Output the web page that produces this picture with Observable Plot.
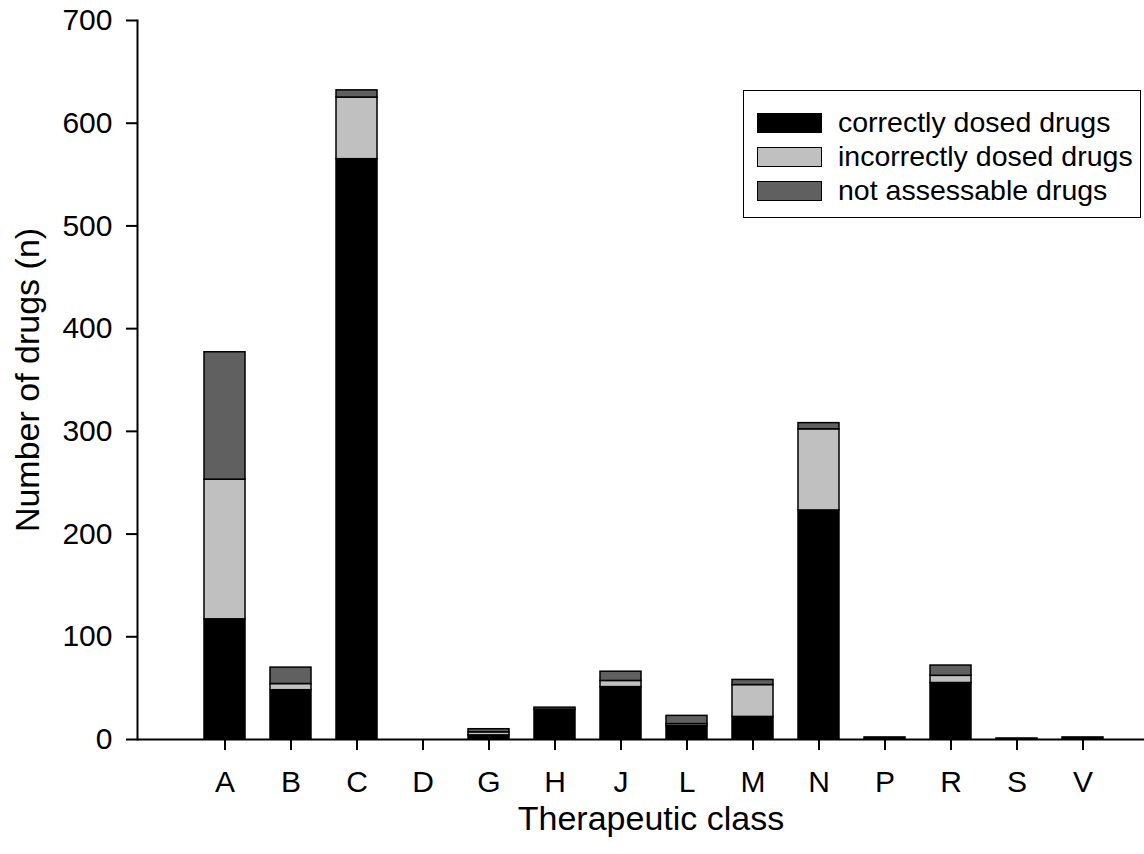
<!DOCTYPE html>
<html>
<head>
<meta charset="utf-8">
<script src="https://cdn.jsdelivr.net/npm/d3@7"></script>
<script src="https://cdn.jsdelivr.net/npm/@observablehq/plot@0.6"></script>
<style>
  html, body { margin: 0; padding: 0; background: #fff; }
  #wrap { position: relative; width: 1144px; height: 854px; font-family: "Liberation Sans", Arial, sans-serif; }
  #legend { position: absolute; left: 743px; top: 90px; width: 398px; height: 128px; border: 1.5px solid #000; box-sizing: border-box; background: #fff; }
  .item { position: absolute; left: 13px; display: flex; align-items: center; font-size: 28.5px; color: #000; white-space: nowrap; }
  .sw { width: 65px; height: 20px; border: 1.5px solid #000; box-sizing: border-box; margin-right: 16px; }
</style>
</head>
<body>
<div id="wrap"></div>
<script>
const categories = ["A","B","C","D","G","H","J","L","M","N","P","R","S","V"];
const correct = [117,48,565,0,4,29,51,13,22,223,2,55,1,2];
const incorrect = [136,6,60,0,3,0,6,2,31,79,0,7,0,0];
const notAssessable = [124,16,7,0,3,2,9,8,5,6,0,10,0,0];
const seriesNames = ["correctly dosed drugs","incorrectly dosed drugs","not assessable drugs"];
const seriesColors = ["#000000","#c0c0c0","#606060"];
const yTicks = [0,100,200,300,400,500,600,700];

const rows = [];
categories.forEach((c, i) => {
  rows.push({cls: c, series: seriesNames[0], n: correct[i]});
  rows.push({cls: c, series: seriesNames[1], n: incorrect[i]});
  rows.push({cls: c, series: seriesNames[2], n: notAssessable[i]});
});

const font = "Liberation Sans, Arial, sans-serif";
const chart = Plot.plot({
  width: 1144,
  height: 854,
  marginLeft: 137,
  marginRight: 0,
  marginTop: 20,
  marginBottom: 115,
  style: {fontFamily: font, fontSize: "30px", background: "#fff", color: "#000"},
  x: {domain: categories, range: [191, 1115], paddingInner: 0.38, paddingOuter: 0.19, label: null},
  y: {domain: [0, 700], label: null},
  color: {domain: seriesNames, range: seriesColors},
  marks: [
    Plot.barY(rows, {x: "cls", y: "n", fill: "series", stroke: "#000", strokeWidth: 1.5}),
    Plot.ruleY([0], {stroke: "#000", strokeWidth: 2}),
    Plot.axisY({ticks: yTicks, tickSize: 11, tickPadding: 14, tickFormat: d => String(d), label: null, strokeWidth: 2, fontSize: 30}),
    Plot.frame({anchor: "left", stroke: "#000", strokeWidth: 2}),
    Plot.axisX({tickSize: 11, tickPadding: 20, label: null, strokeWidth: 2, fontSize: 30}),
    Plot.text(["Number of drugs (n)"], {frameAnchor: "left", textAnchor: "middle", dx: -109, rotate: -90, fontSize: 34, fill: "#000"}),
    Plot.text(["Therapeutic class"], {frameAnchor: "bottom", textAnchor: "middle", dx: 10, dy: 90, fontSize: 34, fill: "#000"})
  ]
});
const wrap = document.getElementById("wrap");
wrap.appendChild(chart);

const legend = document.createElement("div");
legend.id = "legend";
seriesNames.forEach((name, i) => {
  const item = document.createElement("div");
  item.className = "item";
  item.style.top = (15 + i * 34) + "px";
  const sw = document.createElement("div");
  sw.className = "sw";
  sw.style.background = seriesColors[i];
  const label = document.createElement("span");
  label.textContent = name;
  item.appendChild(sw);
  item.appendChild(label);
  legend.appendChild(item);
});
wrap.appendChild(legend);
</script>
</body>
</html>
